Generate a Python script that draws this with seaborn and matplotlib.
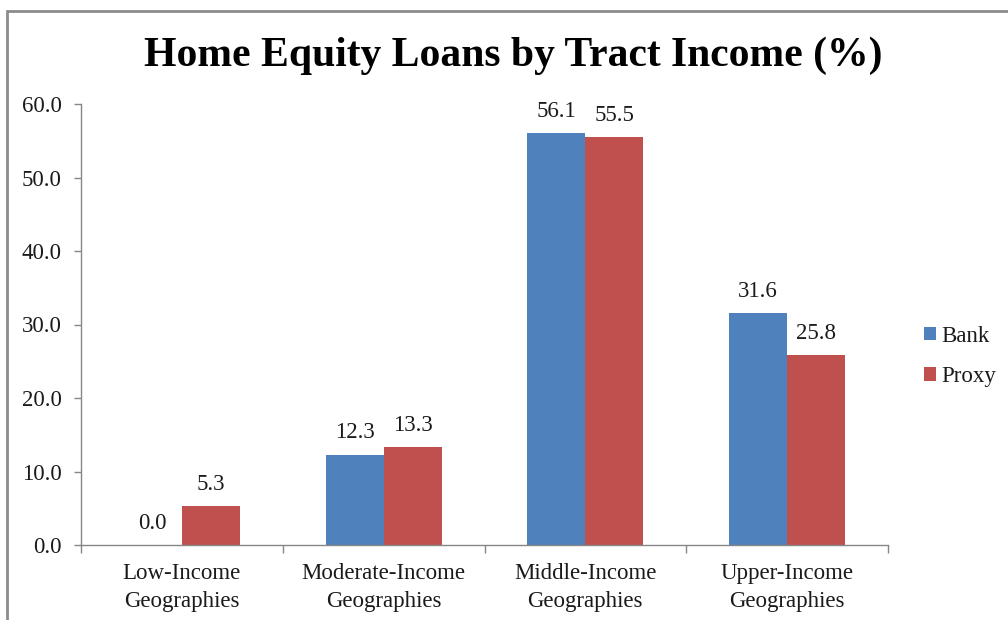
import matplotlib
matplotlib.use("Agg")
import matplotlib.pyplot as plt
from matplotlib.patches import Rectangle
from matplotlib.ticker import FixedLocator
import seaborn as sns
import pandas as pd

categories = ["Low-Income\nGeographies", "Moderate-Income\nGeographies",
              "Middle-Income\nGeographies", "Upper-Income\nGeographies"]
series_names = ["Bank", "Proxy"]
bank = [0.0, 12.3, 56.1, 31.6]
proxy = [5.3, 13.3, 55.5, 25.8]
y_ticks = [0, 10, 20, 30, 40, 50, 60]
title = "Home Equity Loans by Tract Income (%)"

df = pd.DataFrame({
    "Category": categories * 2,
    "Series": [series_names[0]] * 4 + [series_names[1]] * 4,
    "Value": bank + proxy,
})

sns.set_theme(style="white")
plt.rcParams["font.family"] = ["Liberation Serif", "DejaVu Serif"]

FS = 16.5
TXT = "#1a1a1a"

fig = plt.figure(figsize=(10.08, 6.2), dpi=100)
ax = fig.add_axes([81 / 1008, 1 - 545 / 620, (888 - 81) / 1008, (545 - 104) / 620])

sns.barplot(data=df, x="Category", y="Value", hue="Series",
            palette=["#4F81BD", "#C0504D"], width=0.575, gap=0,
            saturation=1, edgecolor="none", ax=ax, legend=True)

for cont in ax.containers:
    ax.bar_label(cont, fmt="%.1f", padding=8, fontsize=FS, color=TXT)

ax.set_ylim(0, 60)
ax.set_xlim(-0.5, 3.5)
ax.set_yticks(y_ticks)
ax.set_yticklabels([f"{v:.1f}" for v in y_ticks], fontsize=FS, color=TXT)
ax.set_xticklabels(categories, fontsize=FS, color=TXT, linespacing=1.45)
ax.set_xlabel("")
ax.set_ylabel("")

for side in ["top", "right"]:
    ax.spines[side].set_visible(False)
for side in ["left", "bottom"]:
    ax.spines[side].set_color("#868686")
    ax.spines[side].set_linewidth(1.0)

ax.tick_params(axis="y", which="major", direction="out", length=5, width=1,
               color="#868686", pad=9, left=True)
ax.tick_params(axis="x", which="major", length=0, pad=13)
ax.xaxis.set_minor_locator(FixedLocator([-0.5, 0.5, 1.5, 2.5, 3.5]))
ax.tick_params(axis="x", which="minor", direction="out", length=6, width=1,
               color="#868686", bottom=True)

leg = ax.legend(loc="center left", bbox_to_anchor=(1.045, 0.428), frameon=False,
                fontsize=FS, handlelength=0.52, handleheight=0.52,
                handletextpad=0.2, labelspacing=0.85, borderaxespad=0,
                borderpad=0)
for t in leg.get_texts():
    t.set_color(TXT)

fig.text(513 / 1008, 1 - 56 / 620, title, ha="center", va="center",
         fontsize=30, fontweight="bold", color="black")

# outer chart frame running off the right and bottom edges
fig.patches.append(Rectangle((7 / 1008, -0.05), 1.2, 1 - 11 / 620 + 0.05,
                             transform=fig.transFigure, fill=False,
                             edgecolor="#8c8c8c", linewidth=2.0))

fig.savefig("out.png", dpi=100)
